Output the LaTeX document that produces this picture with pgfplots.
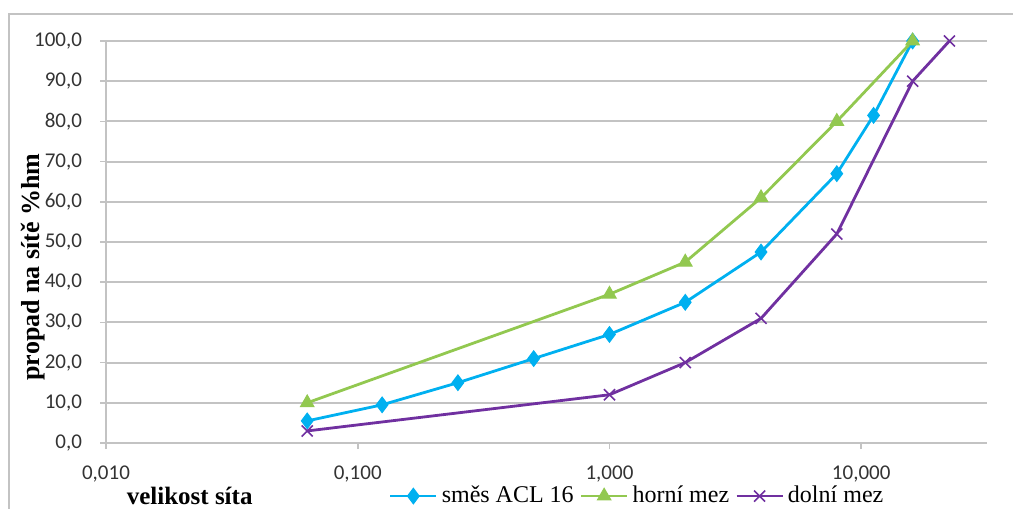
\documentclass[border=0pt]{standalone}
\usepackage{fontspec}
\setmainfont{Liberation Serif}
\newfontfamily\tickfont{Carlito}
\usepackage{pgfplots}
\pgfplotsset{compat=1.18}
\definecolor{cblue}{RGB}{0,176,240}
\definecolor{cgreen}{RGB}{146,200,80}
\definecolor{cpurple}{RGB}{112,48,160}
\definecolor{cgrid}{RGB}{195,195,195}
\begin{document}
\begin{tikzpicture}
\useasboundingbox (0pt,0pt) rectangle (506.5pt,254.5pt);
\draw[cgrid,line width=1pt] (4.5pt,-10pt) -- (4.5pt,247.5pt) -- (515pt,247.5pt);
\begin{axis}[
  at={(53pt,33pt)}, anchor=south west,
  scale only axis, width=440.5pt, height=201pt,
  xmode=log, xmin=0.01, xmax=31.6,
  ymin=0, ymax=100,
  xtick={0.01,0.1,1,10},
  xticklabels={{0,010},{0,100},{1,000},{10,000}},
  ytick={0,10,...,100},
  yticklabels={{0,0},{10,0},{20,0},{30,0},{40,0},{50,0},{60,0},{70,0},{80,0},{90,0},{100,0}},
  axis x line*=bottom, axis y line*=left,
  axis line style={cgrid,line width=1pt,-},
  ymajorgrids, grid style={cgrid,line width=1pt},
  major tick length=3pt,
  tick style={cgrid,line width=0.8pt},
  xtick align=outside, ytick align=outside,
  xminorticks=false,
  tick label style={font=\tickfont\fontsize{10.5pt}{12pt}\selectfont, text=black!80},
  xticklabel style={yshift=-5pt},
  yticklabel style={xshift=-5.5pt},
  xlabel={\textbf{velikost síta}},
  xlabel style={font=\fontsize{12.5pt}{14pt}\selectfont, at={(axis description cs:0.095,-0.152)}, anchor=base},
  ylabel={\textbf{propad na sítě \%hm}},
  ylabel style={font=\fontsize{13pt}{15pt}\selectfont, at={(axis description cs:-0.083,0.438)}, anchor=center},
  legend columns=3,
  legend style={draw=none, fill=none, at={(axis description cs:0.604,-0.132)}, anchor=center,
    font=\fontsize{12pt}{14pt}\selectfont, column sep=0pt, inner sep=0pt,
    /tikz/every even column/.append style={column sep=1pt}},
  legend image code/.code={
    \draw[#1,mark=none] (0pt,0pt) -- (23pt,0pt);
    \draw[#1,only marks] plot coordinates {(11.5pt,0pt)};
  },
  clip=false,
]
\addplot[color=cblue, line width=1.4pt, mark=diamond*, mark size=3.9pt, mark options={fill=cblue,draw=cblue,line width=0.5pt}]
coordinates {(0.063,5.5)(0.125,9.5)(0.25,15)(0.5,21)(1,27)(2,35)(4,47.5)(8,67)(11.2,81.5)(16,100)};
\addlegendentry{směs ACL 16}
\addplot[color=cgreen, line width=1.4pt, mark=triangle*, mark size=3.9pt, mark options={fill=cgreen,draw=cgreen,line width=0.5pt}]
coordinates {(0.063,10)(1,37)(2,45)(4,61)(8,80)(16,100)};
\addlegendentry{horní mez}
\addplot[color=cpurple, line width=1.4pt, mark=x, mark size=3.9pt, mark options={draw=cpurple,line width=0.8pt}]
coordinates {(0.063,3)(1,12)(2,20)(4,31)(8,52)(16,90)(22.4,100)};
\addlegendentry{dolní mez}
\end{axis}
\end{tikzpicture}
\end{document}
